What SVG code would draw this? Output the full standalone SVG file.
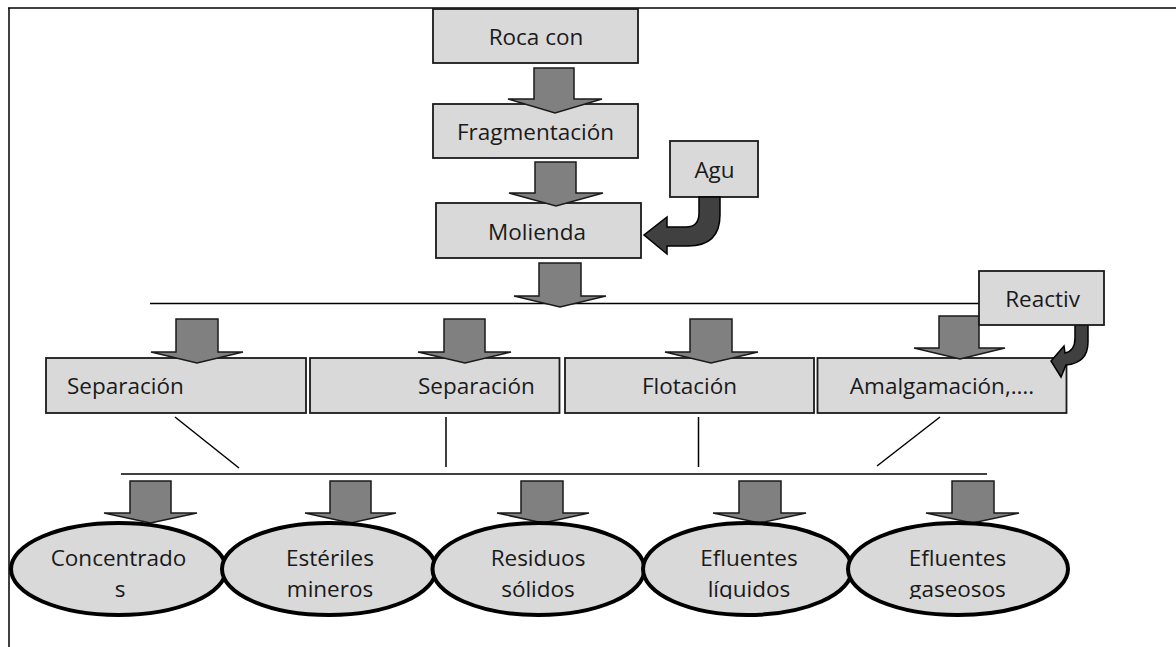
<svg xmlns="http://www.w3.org/2000/svg" width="1176" height="647" viewBox="0 0 1176 647">
<style>
.box{fill:#d9d9d9;stroke:#1a1a1a;stroke-width:1.8}
.ell{fill:#d9d9d9;stroke:#000;stroke-width:4}
.blk{fill:#808080;stroke:#1a1a1a;stroke-width:1.5;stroke-linejoin:miter}
.crv{fill:#404040;stroke:#000;stroke-width:1.5}
.ln{stroke:#000;stroke-width:1.5;fill:none}
.t{font-family:"Open Sans","Liberation Sans",sans-serif;font-size:22.5px;fill:#1a1a1a}
.c{text-anchor:middle}
</style>
<defs>
<clipPath id="cut"><rect x="0" y="0" width="1176" height="599"/></clipPath>
</defs>
<rect width="1176" height="647" fill="#fff"/>
<g id="frame" class="ln">
<line x1="9" y1="8" x2="9" y2="647"/>
<line x1="8" y1="8" x2="1176" y2="8"/>
</g>
<g id="lines" class="ln">
<line x1="150" y1="303.5" x2="985" y2="303.5"/>
<line x1="175" y1="417" x2="239" y2="468"/>
<line x1="446" y1="417" x2="446" y2="467"/>
<line x1="698.5" y1="417" x2="698.5" y2="467"/>
<line x1="940" y1="417" x2="877" y2="466"/>
<line x1="121" y1="474" x2="987" y2="474"/>
</g>
<g id="n-roca"><rect class="box" x="433" y="9" width="205" height="54"/><text class="t c" x="536" y="45">Roca con</text></g>
<g id="n-frag"><rect class="box" x="433" y="104" width="205" height="54"/><text class="t c" x="535.5" y="140">Fragmentación</text></g>
<g id="n-mol"><rect class="box" x="436" y="203" width="205" height="55"/><text class="t c" x="537" y="240">Molienda</text></g>
<g id="n-agu"><rect class="box" x="670" y="141" width="88" height="56"/><text class="t c" x="714.5" y="178">Agu</text></g>
<g id="n-sep1"><rect class="box" x="46" y="358" width="260" height="55"/><text class="t" x="67" y="394">Separación</text></g>
<g id="n-sep2"><rect class="box" x="310" y="358" width="249.5" height="55"/><text class="t" x="418" y="394">Separación</text></g>
<g id="n-flot"><rect class="box" x="565" y="358" width="249" height="55"/><text class="t c" x="689.5" y="394">Flotación</text></g>
<g id="n-amal"><rect class="box" x="817.5" y="358" width="249" height="55"/><text class="t c" x="942" y="394">Amalgamación,….</text></g>
<g id="connectors">
<path class="blk" d="M534 68H574V99H602L555 113L508 99H534Z"/>
<path class="blk" d="M535 162H576V193H603L556 206L509 193H535Z"/>
<path class="blk" d="M539 263H581V296H606L560 307L514 296H539Z"/>
<path class="blk" d="M176 319H218V352H243L197 363L151 352H176Z"/>
<path class="blk" d="M444 319H485V352H511L465 363L418 352H444Z"/>
<path class="blk" d="M690 319H732V352H758L711 363L665 352H690Z"/>
<path class="blk" d="M939 316H979V348H1005L960 359L914 348H939Z"/>
<path class="blk" d="M130 481H171V513H197L150.5 523L104 513H130Z"/>
<path class="blk" d="M330 481H371V513H396L350.5 523L305 513H330Z"/>
<path class="blk" d="M521 481H563V513H589L543 523L497 513H521Z"/>
<path class="blk" d="M739 481H781V513H806L759.5 523L713 513H739Z"/>
<path class="blk" d="M952 481H994V513H1019L972.5 523L926 513H952Z"/>
<path class="crv" d="M699 197H720V215Q720 246 688 246H667V254L644 235L667 217V227H686Q699 227 699 213Z"/>
<path class="crv" d="M1075 325H1088V342Q1088 363 1066 365L1061 377L1051 361L1064 346L1065 353Q1075 351 1075 338Z"/>
</g>
<g id="n-reactiv"><rect class="box" x="979" y="271" width="125" height="54"/><text class="t c" x="1042.5" y="307">Reactiv</text></g>
<g id="n-conc"><ellipse class="ell" cx="118.5" cy="569" rx="107.5" ry="46"/><g clip-path="url(#cut)"><text class="t c" x="118.5" y="566">Concentrado</text><text class="t c" x="120" y="597">s</text></g></g>
<g id="n-est"><ellipse class="ell" cx="329" cy="569" rx="107" ry="46"/><g clip-path="url(#cut)"><text class="t c" x="330" y="566">Estériles</text><text class="t c" x="330" y="597">mineros</text></g></g>
<g id="n-res"><ellipse class="ell" cx="538.5" cy="569" rx="106" ry="46"/><g clip-path="url(#cut)"><text class="t c" x="538" y="566">Residuos</text><text class="t c" x="538" y="597">sólidos</text></g></g>
<g id="n-liq"><ellipse class="ell" cx="747.5" cy="569" rx="104.5" ry="46"/><g clip-path="url(#cut)"><text class="t c" x="749" y="566">Efluentes</text><text class="t c" x="749" y="597">líquidos</text></g></g>
<g id="n-gas"><ellipse class="ell" cx="958" cy="569" rx="110" ry="46"/><g clip-path="url(#cut)"><text class="t c" x="957.5" y="566">Efluentes</text><text class="t c" x="957.5" y="597">gaseosos</text></g></g>
</svg>
